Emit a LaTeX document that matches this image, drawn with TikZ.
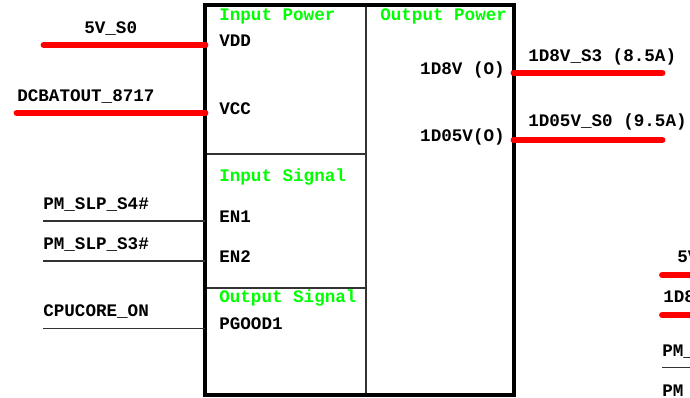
\documentclass[tikz,border=0pt]{standalone}
\usepackage{fontspec}
\setmainfont{Liberation Mono}
\definecolor{PinRed}{RGB}{255,0,0}
\definecolor{HeadGreen}{RGB}{0,255,0}
\definecolor{WireGray}{RGB}{50,50,50}

\begin{document}
\begin{tikzpicture}[x=0.75pt, y=-0.75pt,
  lbl/.style={font=\fontsize{13.2}{15}\selectfont\bfseries, anchor=base west, inner sep=0pt},
  lblr/.style={lbl, anchor=base east},
  head/.style={lbl, text=HeadGreen},
  powerwire/.style={PinRed, line width=5.2pt, line cap=round},
  sigwire/.style={WireGray, line width=0.9pt}]
\useasboundingbox (0,0) rectangle (690,398);
\clip (0,0) rectangle (690,398);

% Regulator box and dividers
\draw[WireGray, line width=0.9pt] (366,5) -- (366,396);
\draw[WireGray, line width=0.9pt] (205,154) -- (366,154);
\draw[WireGray, line width=0.9pt] (205,288) -- (366,288);
\draw[line width=3pt] (205,5.5) rectangle (514,395.5);

% Pin points on the box
\coordinate (vdd) at (205,45);
\coordinate (vcc) at (205,113);
\coordinate (en1) at (205,221);
\coordinate (en2) at (205,261);
\coordinate (pgood) at (205,328.5);
\coordinate (out18) at (514,73);
\coordinate (out105) at (514,140);

% Free wire ends
\coordinate (vddend) at (44,45);
\coordinate (vccend) at (17,113);
\coordinate (en1end) at (43,221);
\coordinate (en2end) at (43,261);
\coordinate (pgoodend) at (43,328.5);
\coordinate (out18end) at (662,73);
\coordinate (out105end) at (662,140);

% Power wires
\draw[powerwire] (vddend) -- (vdd);
\draw[powerwire] (vccend) -- (vcc);
\draw[powerwire] (out18) -- (out18end);
\draw[powerwire] (out105) -- (out105end);

% Signal wires
\draw[sigwire] (en1end) -- (en1);
\draw[sigwire] (en2end) -- (en2);
\draw[sigwire] (pgoodend) -- (pgood);

% Section headers
\node[head] (hinpwr) at (219,21) {Input Power};
\node[head] (houtpwr) at (380,21) {Output Power};
\node[head] (hinsig) at (219,182) {Input Signal};
\node[head] (houtsig) at (219,303) {Output Signal};

% Pin names
\node[lbl] (nvdd) at (219,47) {VDD};
\node[lbl] (nvcc) at (219,115) {VCC};
\node[lbl] (nen1) at (219,222.5) {EN1};
\node[lbl] (nen2) at (219,263) {EN2};
\node[lbl] (npgood) at (219,330) {PGOOD1};
\node[lblr] (n18) at (505,75) {1D8V (O)};
\node[lblr] (n105) at (505,142) {1D05V(O)};

% Net names
\node[lbl] (s5v) at (84,34) {5V\_S0};
\node[lbl] (sbat) at (17,101.5) {DCBATOUT\_8717};
\node[lbl] (ss4) at (43,210) {PM\_SLP\_S4\#};
\node[lbl] (ss3) at (43,250) {PM\_SLP\_S3\#};
\node[lbl] (scpu) at (43,316.5) {CPUCORE\_ON};
\node[lbl] (s18) at (528,61.5) {1D8V\_S3 (8.5A)};
\node[lbl] (s105) at (528,127) {1D05V\_S0 (9.5A)};

% Next block, cut at the edge
\coordinate (nx5v) at (662.5,275);
\coordinate (nx5vend) at (700,275);
\coordinate (nx18) at (662.5,315);
\coordinate (nx18end) at (700,315);
\coordinate (nxs4) at (662,367.5);
\coordinate (nxs4end) at (700,367.5);
\draw[powerwire] (nx5v) -- (nx5vend);
\draw[powerwire] (nx18) -- (nx18end);
\draw[sigwire] (nxs4) -- (nxs4end);
\node[lbl] (nxl5v) at (677,263) {5V};
\node[lbl] (nxl18) at (663,303) {1D8};
\node[lbl] (nxls4) at (662,357) {PM\_};
\node[lbl] (nxls3) at (662,397) {PM};
\end{tikzpicture}
\end{document}
